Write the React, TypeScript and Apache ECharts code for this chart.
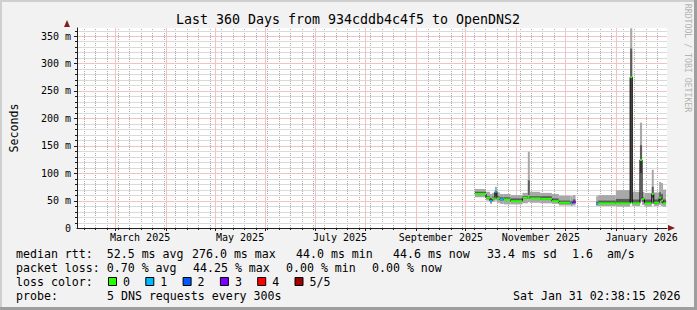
import React, { useEffect, useRef } from "react";
import * as echarts from "echarts";

const START = "2025-02-06T00:00:00Z";
const END = "2026-02-01T00:00:00Z";
const Y_MAX = 364.6;

const runStart = [
  "2025-10-06T19:00:00Z", "2025-10-13T14:00:00Z", "2025-10-16T00:00:00Z", "2025-10-17T05:00:00Z",
  "2025-10-19T00:00:00Z", "2025-10-20T05:00:00Z", "2025-10-22T00:00:00Z", "2025-10-24T10:00:00Z",
  "2025-10-28T14:00:00Z", "2025-11-04T19:00:00Z", "2025-11-08T02:00:00Z", "2025-11-09T07:00:00Z",
  "2025-11-15T14:00:00Z", "2025-11-22T19:00:00Z", "2025-11-27T00:00:00Z", "2025-12-04T05:00:00Z",
  "2025-12-05T10:00:00Z", "2025-12-07T05:00:00Z", "2025-12-19T19:00:00Z", "2025-12-21T00:00:00Z",
  "2025-12-31T19:00:00Z", "2026-01-09T12:00:00Z", "2026-01-10T19:00:00Z", "2026-01-15T12:00:00Z",
  "2026-01-16T19:00:00Z", "2026-01-18T05:00:00Z", "2026-01-22T17:00:00Z", "2026-01-23T22:00:00Z",
  "2026-01-27T05:00:00Z", "2026-01-28T10:00:00Z", "2026-01-29T14:00:00Z", "2026-01-31T10:00:00Z",
];
const minMs = [56, 50, 44, 48, 50, 46, 44, 43, 43, 45, 47, 46, 45, 44, 41, 40, 41, null, 40, 40, 39, 47, 40, 48, 42, 39, 44, 40, 42, 40, 39, null];
const darkLowMs = [60, 53, 47, 52, 58, 52, 50, 51, 48, 53, 60, 53, 52, 48, 45, 44, 45, null, 43, 44, 44, 47, 44, 100, 48, 44, 55, 44, 50, 46, 44, null];
const darkHighMs = [66, 58, 52, 57, 68, 58, 56, 56, 54, 58, 87, 58, 58, 54, 50, 49, 52, null, 48, 50, 53, 327, 52, 151, 56, 52, 75, 52, 65, 62, 52, null];
const maxMs = [71, 66, 62, 64, 75, 65, 62, 62, 60, 64, 139, 66, 64, 62, 59, 58, 60, null, 58, 60, 69, 364, 66, 192, 66, 64, 106, 65, 84, 82, 70, null];
const medianMs = [62, 55, 49, 54, 66, 54, 52, 52, 49, 55, 57, 54, 53, 49, 46, 45, 47, null, 44, 45, 45, 275, 45, 124, 53, 45, 62, 46, 55, 50, 45, null];
const lossLevel = [0, 0, 1, 0, 1, 0, 1, 0, 0, 0, 0, 0, 0, 0, 0, 1, 3, null, 1, 0, 0, 0, 0, 0, 0, 0, 0, 0, 0, 0, 0, null];

const lossColors = ["#26ff00", "#00b8ff", "#0059ff", "#7e00ff", "#ff0000", "#a00000"];
const lossLabels = ["0", "1", "2", "3", "4", "5/5"];

const yMajorValues = [50, 100, 150, 200, 250, 300, 350];
const yMinorStep = 10;

const monthStarts = [
  "2025-03-01T00:00:00Z", "2025-04-01T00:00:00Z", "2025-05-01T00:00:00Z", "2025-06-01T00:00:00Z",
  "2025-07-01T00:00:00Z", "2025-08-01T00:00:00Z", "2025-09-01T00:00:00Z", "2025-10-01T00:00:00Z",
  "2025-11-01T00:00:00Z", "2025-12-01T00:00:00Z", "2026-01-01T00:00:00Z",
];
const monthLabels = ["March 2025", "May 2025", "July 2025", "September 2025", "November 2025", "January 2026"];
const monthLabelDates = [
  "2025-03-16T12:00:00Z", "2025-05-16T12:00:00Z", "2025-07-16T12:00:00Z",
  "2025-09-16T00:00:00Z", "2025-11-16T00:00:00Z", "2026-01-16T12:00:00Z",
];
const firstWeekLine = "2025-02-10T00:00:00Z";

const legendLine1 = [
  [16, "median rtt:  52.5 ms avg"], [192, "276.0 ms max"], [296, "44.0 ms min"],
  [393, "44.6 ms now"], [487, "33.4 ms sd"], [572, "1.6  am/s"],
];
const legendLine2 = [[16, "packet loss: 0.70 % avg"], [193, "44.25 % max"], [286, "0.00 % min"], [372, "0.00 % now"]];
const probeText = "5 DNS requests every 300s";
const dateText = "Sat Jan 31 02:38:15 2026";
const titleText = "Last 360 Days from 934cddb4c4f5 to OpenDNS2";

const MONO = "'DejaVu Sans Mono', monospace";
const DAY = 86400000;
const RED_SOLID = "#f3c2c2";
const GREY_SOLID = "#dadada";
const GREY_GRID = "rgba(143,143,143,0.75)";

export default function App() {
  const ref = useRef<HTMLDivElement>(null);
  useEffect(() => {
    if (!ref.current) return;
    const chart = echarts.init(ref.current, null, { renderer: "svg" });
    const t = runStart.map((s) => Date.parse(s));
    const smokeRows: number[][] = [];
    const medRows: number[][] = [];
    for (let i = 0; i < t.length - 1; i++) {
      if (medianMs[i] == null) continue;
      smokeRows.push([t[i], t[i + 1], minMs[i] as number, darkLowMs[i] as number, darkHighMs[i] as number, maxMs[i] as number]);
      const nxt = medianMs[i + 1];
      medRows.push([t[i], t[i + 1], medianMs[i] as number, lossLevel[i] as number, nxt == null ? -1 : nxt]);
    }
    const startT = Date.parse(START);
    const endT = Date.parse(END);
    const labelRows = monthLabelDates.map((s, i) => [Date.parse(s), i]);

    const txt = (x: number, y: number, text: string, extra: any = {}) => ({
      type: "text",
      x,
      y,
      style: { text, font: `11.6px ${MONO}`, fill: "#000", textVerticalAlign: "middle", ...extra },
    });

    const graphics: any[] = [];
    legendLine1.forEach(([x, s]) => graphics.push(txt(x as number, 254, s as string)));
    legendLine2.forEach(([x, s]) => graphics.push(txt(x as number, 268, s as string)));
    graphics.push(txt(16, 282, "loss color:"));
    lossColors.forEach((c, i) => {
      const bx = 108 + i * 37.3;
      graphics.push({ type: "rect", shape: { x: bx + 0.5, y: 277.5, width: 8, height: 8 }, style: { fill: c, stroke: "#000", lineWidth: 1 } });
      graphics.push(txt(bx + 15, 282, lossLabels[i]));
    });
    graphics.push(txt(16, 296, "probe:"));
    graphics.push(txt(107, 296, probeText));
    graphics.push(txt(513, 296, dateText));
    graphics.push({
      type: "text", x: 348, y: 19,
      style: { text: titleText, font: `13.3px ${MONO}`, fill: "#000", textAlign: "center", textVerticalAlign: "middle" },
    });
    graphics.push({
      type: "text", x: 688, y: 58, rotation: -Math.PI / 2,
      style: { text: "RRDTOOL / TOBI OETIKER", font: `8.2px ${MONO}`, fill: "#b4b4b4", textAlign: "center", textVerticalAlign: "middle" },
    });
    graphics.push({ type: "polygon", z: 5, shape: { points: [[64, 27], [70, 27], [67, 20]] }, style: { fill: "#801f1f" } });
    graphics.push({ type: "polygon", z: 5, shape: { points: [[668, 225], [668, 231], [675, 228]] }, style: { fill: "#801f1f" } });
    graphics.push({ type: "line", shape: { x1: 0, y1: 1, x2: 697, y2: 1 }, style: { stroke: "#cfcfcf", lineWidth: 2 } });
    graphics.push({ type: "line", shape: { x1: 1, y1: 0, x2: 1, y2: 310 }, style: { stroke: "#cfcfcf", lineWidth: 2 } });
    graphics.push({ type: "line", shape: { x1: 0, y1: 308.5, x2: 697, y2: 308.5 }, style: { stroke: "#9e9e9e", lineWidth: 3 } });
    graphics.push({ type: "line", shape: { x1: 695.5, y1: 0, x2: 695.5, y2: 310 }, style: { stroke: "#9e9e9e", lineWidth: 3 } });

    const baseOption: any = {
      animation: false,
      backgroundColor: "#f2f2f2",
      grid: { left: 67, top: 28, width: 600, height: 200, show: true, backgroundColor: "#ffffff", borderWidth: 0, z: 0 },
      xAxis: {
        type: "time",
        min: startT,
        max: endT,
        axisLine: { show: true, lineStyle: { color: "#1f1f1f", width: 1 } },
        axisTick: { show: false },
        axisLabel: { show: false },
        splitLine: { show: false },
        z: 3,
      },
      yAxis: {
        type: "value",
        min: 0,
        max: Y_MAX,
        interval: 50,
        name: "Seconds",
        nameLocation: "middle",
        nameGap: 57,
        nameRotate: 90,
        nameTextStyle: { fontFamily: MONO, fontSize: 11.6, color: "#000" },
        axisLine: { show: true, onZero: false, lineStyle: { color: "#1f1f1f", width: 1 } },
        axisTick: { show: false },
        axisLabel: {
          fontFamily: MONO,
          fontSize: 10,
          color: "#000",
          margin: 6,
          showMaxLabel: false,
          formatter: (v: number) => (v === 0 ? "0" : Math.abs(v % 50) < 1e-6 ? `${v} m` : ""),
        },
        splitLine: { show: false },
        z: 3,
      },
      series: [
        {
          type: "custom",
          name: "smoke",
          data: smokeRows,
          encode: { x: [0, 1], y: [2, 5] },
          silent: true,
          z: 2,
          renderItem: (params: any, api: any) => {
            const x0 = api.coord([api.value(0), 0])[0];
            const x1 = api.coord([api.value(1), 0])[0];
            const yLo = api.coord([api.value(0), api.value(2)])[1];
            const yDl = api.coord([api.value(0), api.value(3)])[1];
            const yDh = api.coord([api.value(0), api.value(4)])[1];
            const yHi = api.coord([api.value(0), api.value(5)])[1];
            return {
              type: "group",
              children: [
                { type: "rect", shape: { x: x0, y: yHi, width: x1 - x0, height: yLo - yHi }, style: { fill: "#a8a8a8" } },
                { type: "rect", shape: { x: x0, y: yDh, width: x1 - x0, height: yDl - yDh }, style: { fill: "#5c5c5c" } },
              ],
            };
          },
        },
        {
          type: "custom",
          name: "median",
          data: medRows,
          encode: { x: [0, 1], y: 2 },
          silent: true,
          z: 3,
          renderItem: (params: any, api: any) => {
            const x0 = api.coord([api.value(0), 0])[0];
            const x1 = api.coord([api.value(1), 0])[0];
            const y = api.coord([api.value(0), api.value(2)])[1];
            const nxt = api.value(4);
            const children: any[] = [
              { type: "line", shape: { x1: x0, y1: y, x2: x1, y2: y }, style: { stroke: "#000", lineWidth: 1 } },
            ];
            if (nxt >= 0) {
              const yn = api.coord([api.value(1), nxt])[1];
              children.push({ type: "line", shape: { x1: x1, y1: y, x2: x1, y2: yn }, style: { stroke: "#000", lineWidth: 1 } });
            }
            children.push({
              type: "rect",
              shape: { x: x0, y: y - 1, width: x1 - x0, height: 2 },
              style: { fill: lossColors[api.value(3)] },
            });
            return { type: "group", children };
          },
        },
        {
          type: "custom",
          name: "monthLabels",
          data: labelRows,
          encode: { x: 0 },
          silent: true,
          clip: false,
          renderItem: (params: any, api: any) => {
            const p = api.coord([api.value(0), 0]);
            return {
              type: "text",
              x: p[0],
              y: p[1] + 9,
              style: { text: monthLabels[api.value(1)], font: `10px ${MONO}`, fill: "#000", textAlign: "center", textVerticalAlign: "middle" },
            };
          },
        },
      ],
    };
    chart.setOption(baseOption);

    const px = (v: number) => Math.round(chart.convertToPixel({ xAxisIndex: 0 }, v) as number) + 0.5;
    const py = (v: number) => Math.round(chart.convertToPixel({ yAxisIndex: 0 }, v) as number) + 0.5;
    const xL = chart.convertToPixel({ xAxisIndex: 0 }, startT) as number;
    const xR = chart.convertToPixel({ xAxisIndex: 0 }, endT) as number;
    const yB = chart.convertToPixel({ yAxisIndex: 0 }, 0) as number;
    const yT = chart.convertToPixel({ yAxisIndex: 0 }, Y_MAX) as number;
    const gl: any[] = [];
    const line = (x1: number, y1: number, x2: number, y2: number, c: string, z: number, dashed: boolean) =>
      gl.push({
        type: "line", z, silent: true, shape: { x1, y1, x2, y2 },
        style: dashed ? { stroke: c, lineWidth: 1, lineDash: [1, 1] } : { stroke: c, lineWidth: 1 },
      });
    for (let w = Date.parse(firstWeekLine); w < endT; w += 7 * DAY) {
      const x = px(w);
      line(x, yB, x, yT, GREY_GRID, 1, true);
      line(x, yB, x, yB + 2, "#1f1f1f", 4, false);
    }
    for (let v = yMinorStep; v < Y_MAX; v += yMinorStep) {
      if (v % 50 === 0) continue;
      const y = py(v);
      line(xL, y, xR, y, GREY_SOLID, 1, false);
      line(xL - 2, y, xL, y, "#1f1f1f", 4, false);
    }
    monthStarts.forEach((s) => {
      const x = px(Date.parse(s));
      line(x, yB, x, yT, RED_SOLID, 1.5, false);
      line(x, yB, x, yB + 3, "#1f1f1f", 4, false);
    });
    yMajorValues.forEach((v) => {
      const y = py(v);
      line(xL, y, xR, y, RED_SOLID, 1.5, false);
      line(xL - 3, y, xL, y, "#1f1f1f", 4, false);
    });
    chart.setOption({ graphic: [{ elements: graphics.concat(gl) }] });

    return () => chart.dispose();
  }, []);
  return <div ref={ref} style={{ position: "fixed", left: 0, top: 0, width: 697, height: 310 }} />;
}
